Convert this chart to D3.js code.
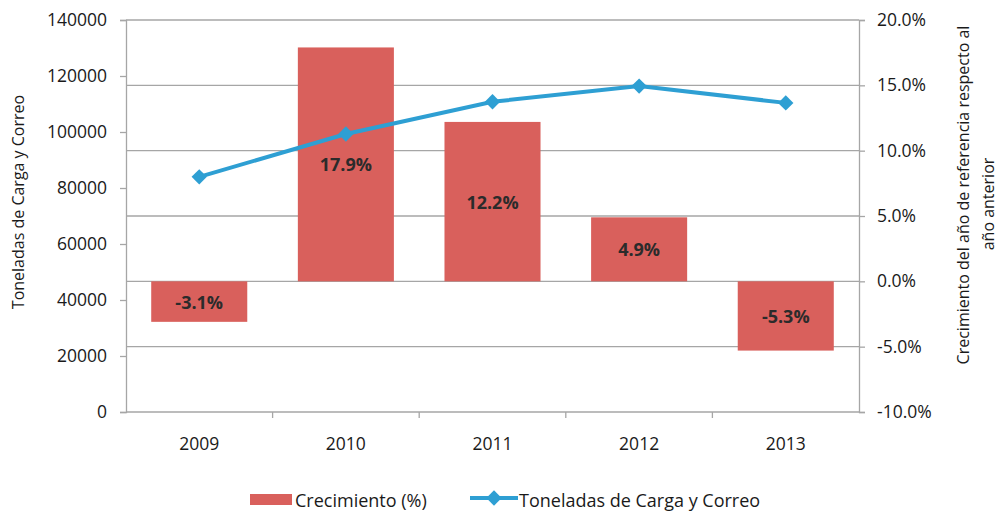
<!DOCTYPE html>
<html>
<head>
<meta charset="utf-8">
<script src="https://cdn.jsdelivr.net/npm/d3@7"></script>
<style>
  body { margin: 0; background: #fff; }
  svg text { font-family: "Open Sans", "Noto Sans", sans-serif; fill: #1a1a1a; }
</style>
</head>
<body>
<svg id="chart" width="999" height="511"></svg>
<script>
// Chart data
const years = ["2009", "2010", "2011", "2012", "2013"];
const growth = [-3.1, 17.9, 12.2, 4.9, -5.3];            // Crecimiento (%)
const tons = [84000, 99300, 110800, 116400, 110400];      // Toneladas de Carga y Correo
const leftTicks = [0, 20000, 40000, 60000, 80000, 100000, 120000, 140000];
const rightTicks = [-10, -5, 0, 5, 10, 15, 20];

const svg = d3.select("#chart");
const plotLeft = 126, plotRight = 859, plotTop = 20, plotBottom = 412;

// Scales
let x = d3.scaleBand().domain(years).range([plotLeft, plotRight]).paddingInner(0.345).paddingOuter(0.172);
let xBand = d3.scaleBand().domain(years).range([plotLeft, plotRight]);
let yLeft = d3.scaleLinear().domain([0, 140000]).range([plotBottom, plotTop]);
let yRight = d3.scaleLinear().domain([-10, 20]).range([plotBottom, plotTop]);

// Gridlines follow the secondary axis
svg.append("g")
    .selectAll("line")
    .data(rightTicks.slice(1))
    .join("line")
    .attr("x1", plotLeft).attr("x2", plotRight)
    .attr("y1", d => yRight(d)).attr("y2", d => yRight(d))
    .style("stroke", "#a6a6a6")
    .style("stroke-width", 1.3);

// Bars
svg.append("g")
    .selectAll("rect")
    .data(growth)
    .join("rect")
    .attr("x", (d, i) => x(years[i]))
    .attr("width", x.bandwidth())
    .attr("y", d => yRight(Math.max(0, d)))
    .attr("height", d => Math.abs(yRight(d) - yRight(0)))
    .style("fill", "#d9605c");

// Bar labels
svg.append("g")
    .selectAll("text")
    .data(growth)
    .join("text")
    .attr("x", (d, i) => x(years[i]) + x.bandwidth() / 2)
    .attr("y", d => (yRight(d) + yRight(0)) / 2 + 7)
    .attr("text-anchor", "middle")
    .style("font-size", "18px")
    .style("font-weight", "bold")
    .style("fill", "#2b2b2b")
    .text(d => d.toFixed(1) + "%");

// Axes
let leftAxis = svg.append("g")
    .attr("transform", `translate(${plotLeft},0)`)
    .call(d3.axisLeft(yLeft).tickValues(leftTicks).tickSize(6).tickPadding(13).tickFormat(d3.format("d")));

let rightAxis = svg.append("g")
    .attr("transform", `translate(${plotRight},0)`)
    .call(d3.axisRight(yRight).tickValues(rightTicks).tickSize(6).tickPadding(12).tickFormat(d => d.toFixed(1) + "%"));

let bottomAxis = svg.append("g")
    .attr("transform", `translate(0,${plotBottom})`)
    .call(d3.axisBottom(x).tickSize(0).tickPadding(26));

// Category separator ticks on x axis
svg.append("g")
    .selectAll("line")
    .data(years.slice(1))
    .join("line")
    .attr("x1", d => xBand(d)).attr("x2", d => xBand(d))
    .attr("y1", plotBottom).attr("y2", plotBottom + 6)
    .style("stroke", "#a6a6a6")
    .style("stroke-width", 1.3);

[leftAxis, rightAxis, bottomAxis].forEach(a => {
    a.select(".domain").style("stroke", "#a6a6a6").style("stroke-width", 1.3);
    a.selectAll(".tick line").style("stroke", "#a6a6a6").style("stroke-width", 1.3);
    a.selectAll(".tick text").style("font-size", "17.5px").style("fill", "#1a1a1a");
});
bottomAxis.select(".domain").attr("d", `M${plotLeft},0H${plotRight}`);

// Line series
let line = d3.line()
    .x((d, i) => x(years[i]) + x.bandwidth() / 2)
    .y(d => yLeft(d));

svg.append("path")
    .datum(tons)
    .attr("d", line)
    .style("fill", "none")
    .style("stroke", "#2e9fd3")
    .style("stroke-width", 4);

svg.append("g")
    .selectAll("path")
    .data(tons)
    .join("path")
    .attr("d", d3.symbol(d3.symbolDiamond2, 150))
    .attr("transform", (d, i) => `translate(${x(years[i]) + x.bandwidth() / 2},${yLeft(d)})`)
    .style("fill", "#2e9fd3");

// Axis titles
svg.append("text")
    .attr("transform", "translate(24,202) rotate(-90)")
    .attr("text-anchor", "middle")
    .style("font-size", "16px")
    .text("Toneladas de Carga y Correo");

svg.append("text")
    .attr("transform", "translate(969,195) rotate(-90)")
    .attr("text-anchor", "middle")
    .style("font-size", "16px")
    .text("Crecimiento del año de referencia respecto al");

svg.append("text")
    .attr("transform", "translate(994,204) rotate(-90)")
    .attr("text-anchor", "middle")
    .style("font-size", "16px")
    .text("año anterior");

// Legend
let legend = svg.append("g");
legend.append("rect")
    .attr("x", 250).attr("y", 494)
    .attr("width", 42).attr("height", 11)
    .style("fill", "#d9605c");
legend.append("text")
    .attr("x", 295).attr("y", 507)
    .style("font-size", "18px")
    .text("Crecimiento (%)");
legend.append("line")
    .attr("x1", 470).attr("x2", 518)
    .attr("y1", 498).attr("y2", 498)
    .style("stroke", "#2e9fd3")
    .style("stroke-width", 4);
legend.append("path")
    .attr("d", d3.symbol(d3.symbolDiamond2, 150))
    .attr("transform", "translate(494,498)")
    .style("fill", "#2e9fd3");
legend.append("text")
    .attr("x", 519).attr("y", 507)
    .style("font-size", "18px")
    .text("Toneladas de Carga y Correo");
</script>
</body>
</html>
